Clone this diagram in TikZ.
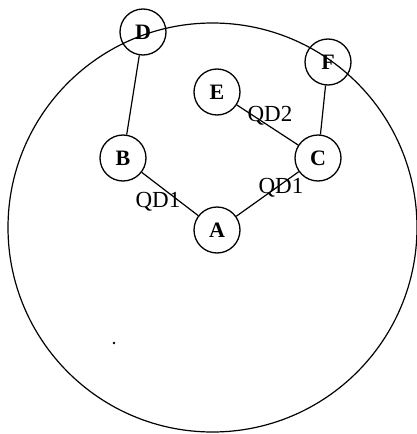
\documentclass[tikz,border=0pt]{standalone}
\usepackage{fontspec}
\setmainfont{Liberation Serif}
\begin{document}
\begin{tikzpicture}[x=1pt,y=-1pt,
  vertex/.style={circle,draw,line width=1.3pt,minimum size=46pt,inner sep=0pt,font=\fontsize{22}{22}\selectfont\bfseries},
  lab/.style={inner sep=0pt,font=\fontsize{23}{23}\selectfont},
  edge/.style={line width=1.2pt}]
\useasboundingbox (0,0) rectangle (417,434);
\node[circle,draw,line width=1.2pt,minimum size=409pt,inner sep=0pt] (ring) at (212.5,227.5) {};
\node[vertex] (D) at (143,32) {D};
\node[vertex] (F) at (328,62) {F};
\node[vertex] (E) at (217,92) {E};
\node[vertex] (B) at (123,158) {B};
\node[vertex] (C) at (318,158) {C};
\node[vertex] (A) at (217,230) {A};
\draw[edge] (D) -- (B);
\draw[edge] (F) -- (C);
\draw[edge] (E) -- (C);
\draw[edge] (B) -- (A);
\draw[edge] (C) -- (A);
\node[lab] (q2) at (270,116) {QD2};
\node[lab] (q1a) at (158,202) {QD1};
\node[lab] (q1b) at (281,188) {QD1};
\fill (114,343) circle (1.4) coordinate (dot);
\end{tikzpicture}
\end{document}
